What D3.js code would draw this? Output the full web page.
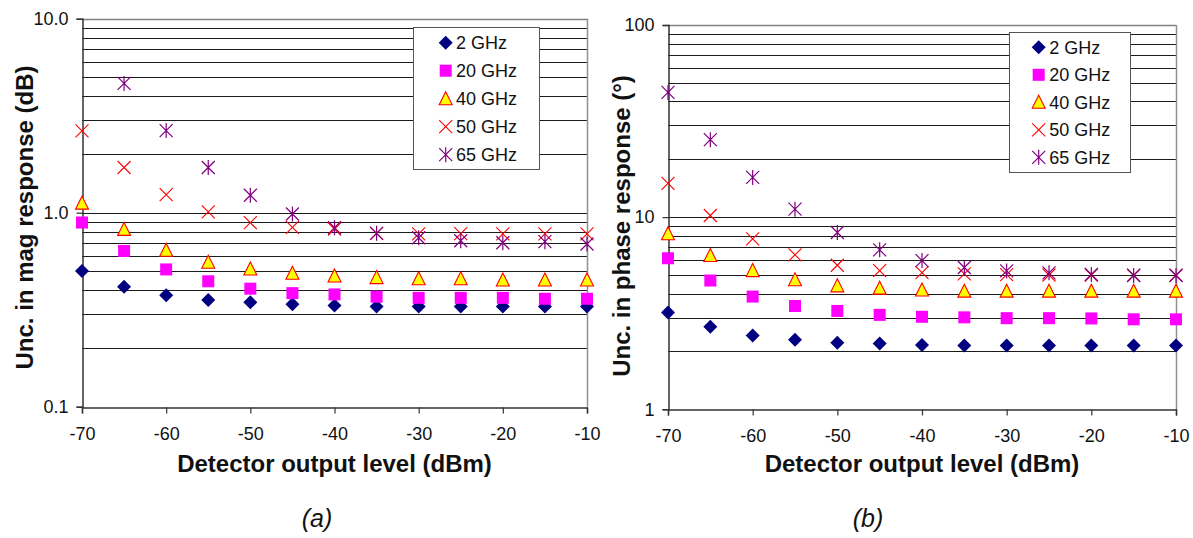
<!DOCTYPE html>
<html><head><meta charset="utf-8">
<script src="https://cdn.jsdelivr.net/npm/d3@7"></script>
<style>
body{margin:0;background:#fff;}
svg{display:block;font-family:"Liberation Sans",Arial,sans-serif;}
</style></head>
<body><svg id="c" width="1193" height="538"></svg>
<script>
// ---- data ----
const levels = [-70,-65,-60,-55,-50,-45,-40,-35,-30,-25,-20,-15,-10];
const seriesNames = ["2 GHz","20 GHz","40 GHz","50 GHz","65 GHz"];
const xTicks = [-70,-60,-50,-40,-30,-20,-10];
const xTickLabels = ["-70","-60","-50","-40","-30","-20","-10"];
const magTickLabels = ["0.1","1.0","10.0"];
const phaseTickLabels = ["1","10","100"];

const mag2  = [0.50,0.415,0.375,0.355,0.345,0.337,0.332,0.328,0.328,0.328,0.328,0.328,0.328];
const mag20 = [0.89,0.635,0.51,0.443,0.406,0.385,0.379,0.369,0.364,0.364,0.364,0.36,0.36];
const mag40 = [1.12,0.82,0.64,0.555,0.513,0.487,0.472,0.463,0.457,0.457,0.45,0.45,0.45];
const mag50 = [2.64,1.71,1.24,1.01,0.888,0.84,0.824,0.783,0.777,0.78,0.777,0.777,0.777];
const mag65 = [null,4.64,2.65,1.71,1.23,0.985,0.837,0.783,0.743,0.717,0.70,0.709,0.69];

const ph2  = [3.19,2.69,2.42,2.30,2.22,2.20,2.16,2.15,2.15,2.15,2.15,2.15,2.15];
const ph20 = [6.11,4.68,3.86,3.45,3.25,3.10,3.03,3.01,2.98,2.98,2.97,2.94,2.94];
const ph40 = [8.19,6.31,5.27,4.72,4.39,4.27,4.18,4.12,4.12,4.12,4.12,4.12,4.12];
const ph50 = [15.0,10.2,7.71,6.37,5.62,5.27,5.15,5.07,5.02,5.0,4.99,4.99,4.99];
const ph65 = [44.6,25.3,16.1,11.0,8.32,6.76,5.94,5.47,5.25,5.13,5.03,4.97,4.97];

const svg = d3.select("#c");

function marker(g, type, x, y){
  if(type===0){
    const s = 7;
    g.append("path").attr("d",`M${x},${y-s}L${x+s},${y}L${x},${y+s}L${x-s},${y}Z`).attr("fill","#000080");
  } else if(type===1){
    g.append("rect").attr("x",x-6).attr("y",y-6).attr("width",12).attr("height",12).attr("fill","#ff00ff");
  } else if(type===2){
    g.append("path").attr("d",`M${x},${y-7}L${x+6.5},${y+6}L${x-6.5},${y+6}Z`).attr("fill","#ffff00").attr("stroke","#ff0000").attr("stroke-width",1.1);
  } else if(type===3){
    g.append("path").attr("d",`M${x-6.5},${y-6.5}L${x+6.5},${y+6.5}M${x+6.5},${y-6.5}L${x-6.5},${y+6.5}`).attr("stroke","#ff0000").attr("stroke-width",1.1);
  } else {
    g.append("path").attr("d",`M${x-6.5},${y-6.5}L${x+6.5},${y+6.5}M${x+6.5},${y-6.5}L${x-6.5},${y+6.5}M${x},${y-7.5}L${x},${y+7.5}`).attr("stroke","#800080").attr("stroke-width",1.2);
  }
}

function chart(cfg){
  const g = svg.append("g");
  const x = d3.scaleLinear().domain([-70,-10]).range([cfg.x0,cfg.x1]);
  const y = d3.scaleLog().domain(cfg.ydom).range([cfg.y0,cfg.y1]);
  // gridlines
  const grid = [];
  for(let d=cfg.ydom[0]; d<cfg.ydom[1]*0.999; d*=10){
    for(let k=1;k<=9;k++){ if(!(d===cfg.ydom[0] && k===1)) grid.push(d*k); }
  }
  g.selectAll("line.grid").data(grid).join("line")
    .attr("x1",cfg.x0).attr("x2",cfg.x1)
    .attr("y1",d=>Math.round(y(d))+0.5).attr("y2",d=>Math.round(y(d))+0.5)
    .attr("stroke","#1a1a1a").attr("stroke-width",1.1);
  // plot border top/right
  g.append("line").attr("x1",cfg.x0).attr("x2",cfg.x1).attr("y1",Math.round(y(cfg.ydom[1]))+0.5).attr("y2",Math.round(y(cfg.ydom[1]))+0.5).attr("stroke","#808080").attr("stroke-width",1.5);
  g.append("line").attr("x1",Math.round(cfg.x1)+0.5).attr("x2",Math.round(cfg.x1)+0.5).attr("y1",cfg.y1).attr("y2",cfg.y0).attr("stroke","#909090").attr("stroke-width",1.5);

  // axes
  const yAxis = d3.axisLeft(y).tickValues(cfg.yTickVals).tickFormat((d,i)=>cfg.yLabels[i]).tickSize(6).tickPadding(8);
  const ya = g.append("g").attr("transform",`translate(${Math.round(cfg.x0)+0.5},0)`).call(yAxis);
  const xAxis = d3.axisBottom(x).tickValues(xTicks).tickFormat((d,i)=>xTickLabels[i]).tickSize(6).tickPadding(14);
  const xa = g.append("g").attr("transform",`translate(0,${Math.round(cfg.y0)+0.5})`).call(xAxis);
  [ya,xa].forEach(a=>{
    a.select(".domain").attr("stroke","#333").attr("stroke-width",1.5);
    a.selectAll(".tick line").attr("stroke","#333").attr("stroke-width",1.2);
    a.selectAll("text").attr("font-size",18).attr("fill","#111").attr("font-family","Liberation Sans, Arial, sans-serif");
  });

  // points
  cfg.series.forEach((vals,si)=>{
    const pg = g.append("g");
    vals.forEach((v,i)=>{ if(v!=null) marker(pg, si, x(levels[i]), y(v)); });
  });

  // legend
  const L = cfg.legend;
  g.append("rect").attr("x",L.x+0.5).attr("y",L.y+0.5).attr("width",L.w).attr("height",L.h)
    .attr("fill","#fff").attr("stroke","#555").attr("stroke-width",1);
  seriesNames.forEach((n,i)=>{
    const yy = L.row0 + i*L.dy;
    marker(g, i, L.mx, yy);
    g.append("text").attr("x",L.tx).attr("y",yy).attr("dy","0.36em").attr("font-size",18).attr("fill","#111").text(n);
  });

  // titles
  g.append("text").attr("transform",`translate(${cfg.ytX},${cfg.ytY}) rotate(-90)`)
    .attr("text-anchor","middle").attr("font-size",24).attr("font-weight","bold").attr("fill","#111").text(cfg.yTitle);
  g.append("text").attr("x",(cfg.x0+cfg.x1)/2).attr("y",471.5).attr("text-anchor","middle")
    .attr("font-size",24).attr("font-weight","bold").attr("fill","#111").text("Detector output level (dBm)");
  g.append("text").attr("x",cfg.capX).attr("y",527).attr("text-anchor","middle")
    .attr("font-size",25).attr("font-style","italic").attr("fill","#111").text(cfg.caption);
}

chart({x0:82,x1:587,y0:406.7,y1:18.7,ydom:[0.1,10],yTickVals:[0.1,1,10],yLabels:magTickLabels,
  series:[mag2,mag20,mag40,mag50,mag65],
  legend:{x:413,y:27,w:126,h:142,row0:42.7,dy:28,mx:445.7,tx:456},
  yTitle:"Unc. in mag response (dB)",ytX:33,ytY:217.5,caption:"(a)",capX:317});

chart({x0:668,x1:1176,y0:409.3,y1:25,ydom:[1,100],yTickVals:[1,10,100],yLabels:phaseTickLabels,
  series:[ph2,ph20,ph40,ph50,ph65],
  legend:{x:1009,y:32,w:121,h:140,row0:47.3,dy:27.5,mx:1038.7,tx:1049.3},
  yTitle:"Unc. in phase response (°)",ytX:630,ytY:226,caption:"(b)",capX:868});
</script></body></html>
